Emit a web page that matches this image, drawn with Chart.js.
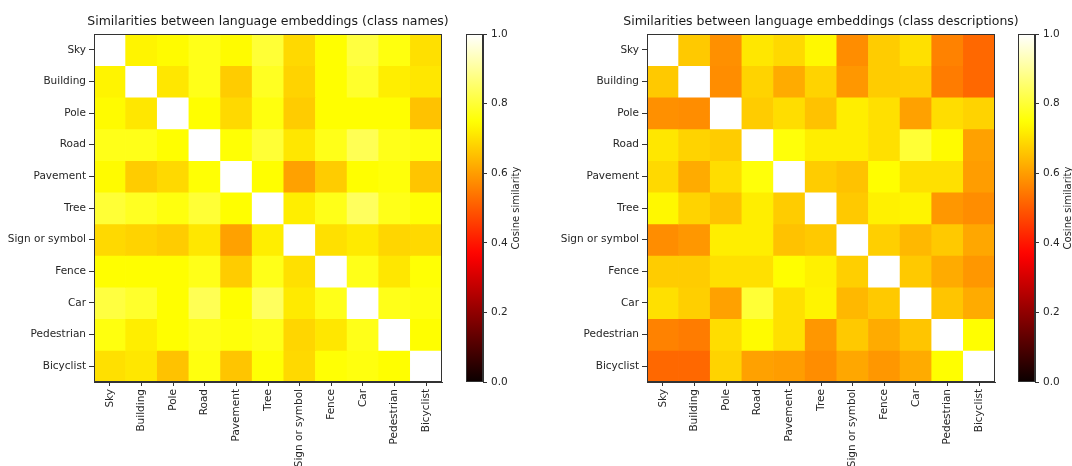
<!DOCTYPE html>
<html lang="en">
<head>
    <meta charset="UTF-8">
    <title>Similarities between language embeddings</title>
    <script src="https://cdn.jsdelivr.net/npm/chart.js"></script>
    <style>
        body {
            margin: 0;
            width: 1072px;
            height: 466px;
            overflow: hidden;
            background: #fff;
            position: relative;
            font-family: "DejaVu Sans", sans-serif;
        }
        canvas {
            position: absolute;
            top: 0;
        }
    </style>
</head>
<body>
    <canvas id="namesChart" width="536" height="466" style="left:0px"></canvas>
    <canvas id="namesBar" width="75" height="466" style="left:466px"></canvas>
    <canvas id="descChart" width="536" height="466" style="left:553px"></canvas>
    <canvas id="descBar" width="75" height="466" style="left:1018px"></canvas>

    <script>
        const classNames = ['Sky', 'Building', 'Pole', 'Road', 'Pavement', 'Tree',
            'Sign or symbol', 'Fence', 'Car', 'Pedestrian', 'Bicyclist'];

        // cosine similarity, class names (rows = y, columns = x)
        const nameSim = [
            [1.00, 0.73, 0.74, 0.77, 0.74, 0.80, 0.69, 0.745, 0.81, 0.76, 0.70],
            [0.73, 1.00, 0.71, 0.77, 0.67, 0.78, 0.68, 0.745, 0.79, 0.72, 0.71],
            [0.74, 0.71, 1.00, 0.745, 0.69, 0.76, 0.67, 0.745, 0.745, 0.745, 0.655],
            [0.77, 0.77, 0.745, 1.00, 0.75, 0.80, 0.71, 0.77, 0.83, 0.77, 0.76],
            [0.74, 0.67, 0.69, 0.75, 1.00, 0.745, 0.605, 0.67, 0.745, 0.755, 0.66],
            [0.80, 0.78, 0.76, 0.80, 0.745, 1.00, 0.72, 0.77, 0.84, 0.77, 0.75],
            [0.69, 0.68, 0.67, 0.71, 0.605, 0.72, 1.00, 0.70, 0.715, 0.685, 0.69],
            [0.745, 0.745, 0.745, 0.77, 0.67, 0.77, 0.70, 1.00, 0.77, 0.71, 0.75],
            [0.81, 0.79, 0.745, 0.83, 0.745, 0.84, 0.715, 0.77, 1.00, 0.77, 0.76],
            [0.76, 0.72, 0.745, 0.77, 0.755, 0.77, 0.685, 0.71, 0.77, 1.00, 0.745],
            [0.70, 0.71, 0.655, 0.76, 0.66, 0.75, 0.69, 0.75, 0.76, 0.745, 1.00]
        ];

        // cosine similarity, class descriptions
        const descSim = [
            [1.00, 0.665, 0.58, 0.71, 0.69, 0.735, 0.575, 0.67, 0.70, 0.56, 0.52],
            [0.665, 1.00, 0.575, 0.68, 0.62, 0.68, 0.59, 0.67, 0.675, 0.55, 0.52],
            [0.58, 0.575, 1.00, 0.67, 0.695, 0.655, 0.72, 0.70, 0.605, 0.695, 0.68],
            [0.71, 0.68, 0.67, 1.00, 0.755, 0.72, 0.72, 0.70, 0.80, 0.74, 0.605],
            [0.69, 0.62, 0.695, 0.755, 1.00, 0.67, 0.655, 0.745, 0.70, 0.70, 0.60],
            [0.735, 0.68, 0.655, 0.72, 0.67, 1.00, 0.665, 0.725, 0.73, 0.59, 0.575],
            [0.575, 0.59, 0.72, 0.72, 0.655, 0.665, 1.00, 0.675, 0.64, 0.665, 0.615],
            [0.67, 0.67, 0.70, 0.70, 0.745, 0.725, 0.675, 1.00, 0.665, 0.62, 0.59],
            [0.70, 0.675, 0.605, 0.80, 0.70, 0.73, 0.64, 0.665, 1.00, 0.66, 0.62],
            [0.56, 0.55, 0.695, 0.74, 0.70, 0.59, 0.665, 0.62, 0.66, 1.00, 0.745],
            [0.52, 0.52, 0.68, 0.605, 0.60, 0.575, 0.615, 0.59, 0.62, 0.745, 1.00]
        ];

        const colorbarTicks = [0, 0.2, 0.4, 0.6, 0.8, 1.0];

        Chart.defaults.font.family = '"DejaVu Sans", sans-serif';
        Chart.defaults.color = '#262626';
        Chart.defaults.animation = false;

        // matplotlib "hot" colormap
        function hot(v) {
            const clamp = x => Math.max(0, Math.min(1, x));
            const r = clamp(0.0416 + (1 - 0.0416) * v / 0.365079);
            const g = clamp((v - 0.365079) / (0.746032 - 0.365079));
            const b = clamp((v - 0.746032) / (1 - 0.746032));
            return `rgb(${Math.round(r * 255)}, ${Math.round(g * 255)}, ${Math.round(b * 255)})`;
        }

        // black frame round the plot area, like matplotlib spines
        const frame = {
            id: 'frame',
            afterDatasetsDraw(chart) {
                const { ctx, chartArea: a } = chart;
                ctx.save();
                ctx.strokeStyle = '#333';
                ctx.lineWidth = 1;
                ctx.strokeRect(Math.round(a.left) + 0.5, Math.round(a.top) + 0.5,
                    Math.round(a.right - a.left) - 1, Math.round(a.bottom - a.top) - 1);
                ctx.restore();
            }
        };

        // colorbar label, reads bottom to top
        const cbLabel = {
            id: 'cbLabel',
            afterDraw(chart) {
                const { ctx, chartArea: a } = chart;
                ctx.save();
                ctx.translate(a.right + 33, (a.top + a.bottom) / 2);
                ctx.rotate(-Math.PI / 2);
                ctx.font = '10px "DejaVu Sans"';
                ctx.fillStyle = '#262626';
                ctx.textAlign = 'center';
                ctx.textBaseline = 'middle';
                ctx.fillText('Cosine similarity', 0, 0);
                ctx.restore();
            }
        };

        function heatmap(canvasId, title, matrix) {
            const datasets = matrix.map((row, i) => ({
                label: classNames[i],
                data: row.map(() => [i, i + 1]),
                backgroundColor: row.map(hot),
                borderWidth: 0,
                barPercentage: 1,
                categoryPercentage: 1,
                grouped: false
            }));

            new Chart(document.getElementById(canvasId), {
                type: 'bar',
                data: { labels: classNames, datasets: datasets },
                options: {
                    responsive: false,
                    layout: { padding: 0 },
                    plugins: {
                        legend: { display: false },
                        tooltip: { enabled: false },
                        title: {
                            display: true,
                            text: title,
                            color: '#1a1a1a',
                            font: { size: 12.5, weight: 'normal' },
                            padding: { top: 14, bottom: 5 }
                        }
                    },
                    scales: {
                        x: {
                            offset: true,
                            grid: { offset: false, drawOnChartArea: false, tickLength: 4, color: '#333' },
                            border: { color: '#333' },
                            ticks: { autoSkip: false, minRotation: 90, maxRotation: 90, padding: 3, font: { size: 10.5 } },
                            afterFit(scale) { scale.height = 84; }
                        },
                        y: {
                            min: 0,
                            max: classNames.length,
                            reverse: true,
                            grid: { drawOnChartArea: false, tickLength: 5, color: '#333' },
                            border: { color: '#333' },
                            afterBuildTicks(scale) {
                                scale.ticks = classNames.map((c, i) => ({ value: i + 0.5 }));
                            },
                            ticks: {
                                autoSkip: false,
                                padding: 3,
                                font: { size: 10.5 },
                                callback: (value, index) => classNames[index]
                            },
                            afterFit(scale) { scale.width = 94; }
                        },
                        // empty right-hand spacer so the title centres over the plot
                        spacer: {
                            type: 'linear',
                            position: 'right',
                            grid: { display: false },
                            border: { display: false },
                            ticks: { display: false },
                            afterFit(scale) { scale.width = 94; }
                        }
                    }
                },
                plugins: [frame]
            });
        }

        function colorbar(canvasId) {
            new Chart(document.getElementById(canvasId), {
                type: 'bar',
                data: {
                    labels: [''],
                    datasets: [{
                        data: [[0, 1]],
                        borderWidth: 0,
                        barPercentage: 1,
                        categoryPercentage: 1,
                        backgroundColor(ctx) {
                            const a = ctx.chart.chartArea;
                            if (!a) return 'black';
                            const grad = ctx.chart.ctx.createLinearGradient(0, a.bottom, 0, a.top);
                            for (let i = 0; i <= 40; i++) grad.addColorStop(i / 40, hot(i / 40));
                            return grad;
                        }
                    }]
                },
                options: {
                    responsive: false,
                    layout: { padding: { top: 34, bottom: 84, left: 0, right: 0 } },
                    plugins: { legend: { display: false }, tooltip: { enabled: false } },
                    scales: {
                        x: { display: false },
                        y: {
                            position: 'right',
                            min: 0,
                            max: 1,
                            afterBuildTicks(scale) {
                                scale.ticks = colorbarTicks.map(v => ({ value: v }));
                            },
                            grid: { drawOnChartArea: false, tickLength: 4, color: '#333' },
                            border: { color: '#333' },
                            ticks: { padding: 4, font: { size: 10.5 }, callback: v => v.toFixed(1) },
                            afterFit(scale) { scale.width = 58; }
                        }
                    }
                },
                plugins: [frame, cbLabel]
            });
        }

        heatmap('namesChart', 'Similarities between language embeddings (class names)', nameSim);
        colorbar('namesBar');
        heatmap('descChart', 'Similarities between language embeddings (class descriptions)', descSim);
        colorbar('descBar');
    </script>
</body>
</html>
